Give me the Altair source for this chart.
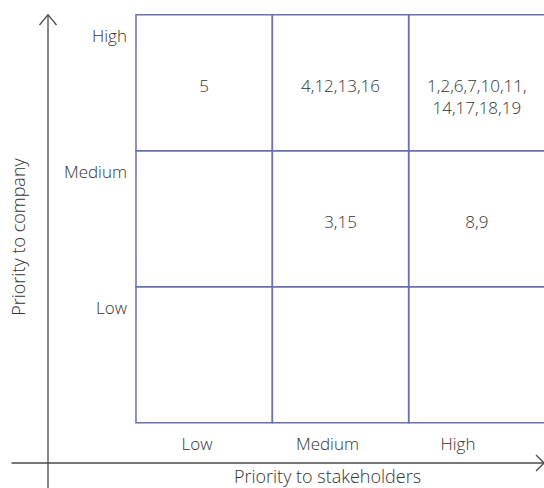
import altair as alt
import pandas as pd

# ---- data ----
stakeholder_levels = ["Low", "Medium", "High"]
company_levels = ["High", "Medium", "Low"]  # top to bottom

cell_stakeholder = ["Low", "Medium", "High", "Medium", "High"]
cell_company = ["High", "High", "High", "Medium", "Medium"]
cell_text = ["5", "4,12,13,16", "1,2,6,7,10,11,\n14,17,18,19", "3,15", "8,9"]

x_title = "Priority to stakeholders"
y_title = "Priority to company"

FONT = "Open Sans"
W = 300
TXT = "#333333"
GRID = "#6a6eb3"
AX = "#4a4a4a"

grid_df = pd.DataFrame(
    [{"stakeholder": s, "company": c} for s in stakeholder_levels for c in company_levels]
)
cells_df = pd.DataFrame(
    {"stakeholder": cell_stakeholder, "company": cell_company, "text": cell_text}
)
xlab_df = pd.DataFrame({"stakeholder": stakeholder_levels})
ylab_df = pd.DataFrame({"company": company_levels})
one = pd.DataFrame({"k": [0]})

xs = alt.Scale(domain=stakeholder_levels, range=[136, 545], paddingInner=0, paddingOuter=0)
ys = alt.Scale(domain=company_levels, range=[14.7, 422.7], paddingInner=0, paddingOuter=0)
xs_lab = alt.Scale(domain=stakeholder_levels, range=[131.75, 523.25], paddingInner=0, paddingOuter=0)

grid = alt.Chart(grid_df).mark_rect(filled=False, stroke=GRID, strokeWidth=1.5).encode(
    x=alt.X("stakeholder:N", scale=xs, axis=None),
    y=alt.Y("company:N", scale=ys, axis=None),
)

cells = alt.Chart(cells_df).mark_text(
    font=FONT, fontWeight=W, fontSize=17, color=TXT, baseline="middle", align="center",
    dy=4, lineBreak="\n", lineHeight=22.5,
).encode(
    x=alt.X("stakeholder:N", scale=xs, axis=None),
    y=alt.Y("company:N", scale=ys, axis=None),
    text="text:N",
)

xlabels = alt.Chart(xlab_df).mark_text(
    font=FONT, fontWeight=W, fontSize=17, color=TXT, baseline="alphabetic", align="center"
).encode(
    x=alt.X("stakeholder:N", scale=xs_lab, axis=None),
    y=alt.value(450),
    text="stakeholder:N",
)

ylabels = alt.Chart(ylab_df).mark_text(
    font=FONT, fontWeight=W, fontSize=17, color=TXT, baseline="alphabetic", align="right", dy=27
).encode(
    x=alt.value(127),
    y=alt.Y("company:N", scale=ys, axis=None, bandPosition=0),
    text="company:N",
)

def seg(x1, y1, x2, y2):
    return alt.Chart(one).mark_rule(color=AX, strokeWidth=1.3).encode(
        x=alt.value(x1), y=alt.value(y1), x2=alt.value(x2), y2=alt.value(y2)
    )

arrows = [
    seg(48, 14.7, 48, 488),
    seg(39.5, 25, 48, 14.7),
    seg(56.5, 25, 48, 14.7),
    seg(11.5, 463, 544, 463),
    seg(536, 455, 544, 463),
    seg(536, 471, 544, 463),
]

xt = alt.Chart(one).mark_text(
    font=FONT, fontWeight=W, fontSize=18, color=TXT, baseline="alphabetic", align="center", text=x_title
).encode(x=alt.value(327.5), y=alt.value(483))

yt = alt.Chart(one).mark_text(
    font=FONT, fontWeight=W, fontSize=18, color=TXT, baseline="alphabetic", align="center",
    angle=270, text=y_title
).encode(x=alt.value(25), y=alt.value(237))

chart = alt.layer(grid, cells, xlabels, ylabels, *arrows, xt, yt).resolve_scale(
    x="independent"
).properties(
    width=544, height=488, autosize=alt.AutoSizeParams(type="none"), padding=0
).configure_view(stroke=None)

chart.save("out.html", embed_options={"renderer": "svg", "actions": False})
